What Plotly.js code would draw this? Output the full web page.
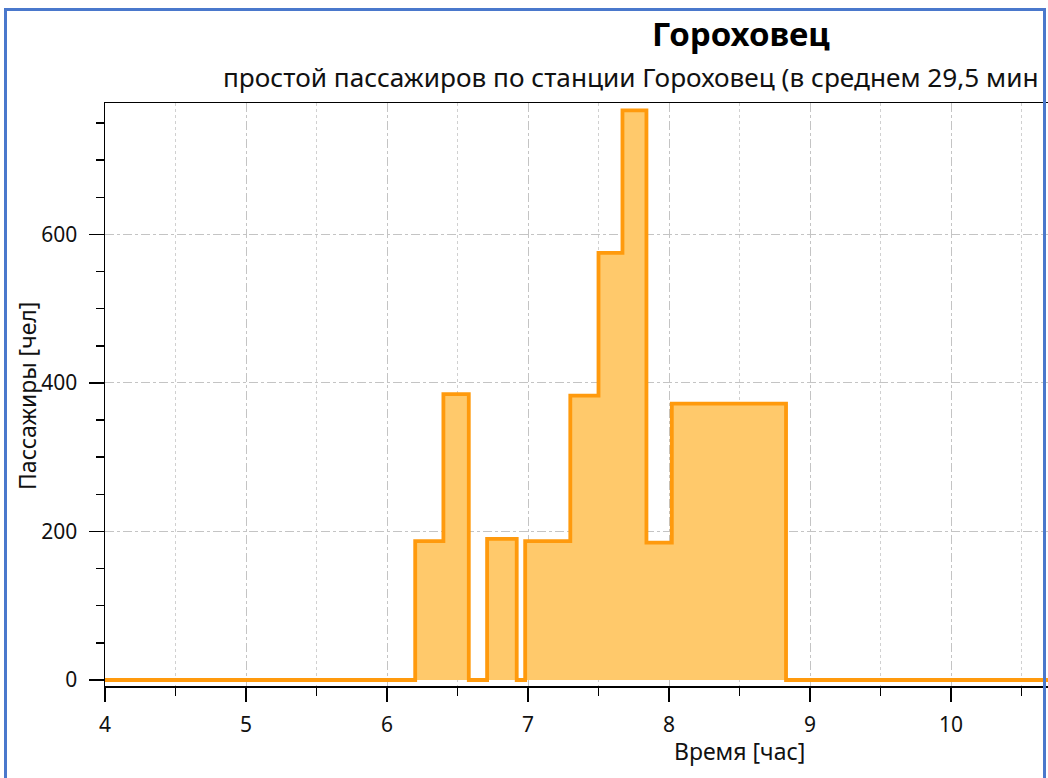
<!DOCTYPE html>
<html>
<head>
<meta charset="utf-8">
<script src="https://cdn.plot.ly/plotly-3.0.1.min.js"></script>
<style>
  html, body { margin:0; padding:0; background:#fff; overflow:hidden; }
  #chart { position:absolute; left:0; top:0; width:1048px; height:778px; }
  #frame { position:absolute; left:4px; top:8px; width:1036px; height:800px;
           border:3px solid #4A78CC; pointer-events:none; z-index:10; }
</style>
</head>
<body>
<div id="chart"></div>
<div id="frame"></div>
<script>
// Step start times (hours) and passenger counts holding from that time
const stepTimes  = [4, 6.2, 6.4, 6.58, 6.71, 6.92, 6.98, 7.3, 7.5, 7.67, 7.84, 8.02, 8.83, 11];
const passengers = [0, 187, 385, 0, 190, 0, 187, 383, 575, 767, 185, 372, 0, 0];

const titleText = 'Гороховец';
const subtitleText = 'простой пассажиров по станции Гороховец (в среднем 29,5 мин';
const xTitle = 'Время [час]';
const yTitle = 'Пассажиры [чел]';

const FONT = 'Noto Sans, Open Sans, DejaVu Sans, sans-serif';

const trace = {
  x: stepTimes,
  y: passengers,
  type: 'scatter',
  mode: 'lines',
  line: { shape: 'hv', color: '#FF9A0D', width: 3.8 },
  fill: 'tozeroy',
  fillcolor: '#FFC96B',
  hoverinfo: 'skip'
};

const layout = {
  width: 1048,
  height: 778,
  margin: { l: 105, r: 0, t: 103, b: 92 },
  paper_bgcolor: 'rgba(0,0,0,0)',
  plot_bgcolor: '#fff',
  showlegend: false,
  font: { family: FONT, color: '#000', size: 21 },
  xaxis: {
    range: [4, 4 + 943 / 141],
    tickvals: [4, 5, 6, 7, 8, 9, 10],
    ticks: 'outside', ticklen: 14, tickwidth: 1.5, tickcolor: '#000',
    ticklabelstandoff: 5,
    showline: true, linecolor: '#000', linewidth: 1.5, mirror: true,
    showgrid: true, gridcolor: '#c4c4c4', griddash: 'dashdot', gridwidth: 1,
    zeroline: false,
    tickfont: { family: FONT, size: 21, color: '#111' },
    minor: { dtick: 0.5, ticks: 'outside', ticklen: 8, tickcolor: '#000', tickwidth: 1.5,
             showgrid: true, gridcolor: '#d0d0d0', griddash: 'dot', gridwidth: 1 }
  },
  yaxis: {
    range: [-8.1, 776.9],
    tickvals: [0, 200, 400, 600],
    ticks: 'outside', ticklen: 15, tickwidth: 1.5, tickcolor: '#000',
    ticklabelstandoff: 7,
    showline: true, linecolor: '#000', linewidth: 1.5, mirror: false,
    showgrid: true, gridcolor: '#c4c4c4', griddash: 'dashdot', gridwidth: 1,
    zeroline: false,
    tickfont: { family: FONT, size: 21, color: '#111' },
    minor: { dtick: 50, ticks: 'outside', ticklen: 8, tickcolor: '#000', tickwidth: 1.5, showgrid: false }
  },
  annotations: [
    { text: '<b>' + titleText + '</b>', xref: 'paper', yref: 'paper', x: (741 - 105) / 943, y: 1,
      yshift: 70, xanchor: 'center', yanchor: 'middle', showarrow: false,
      font: { family: FONT, size: 33, color: '#000' } },
    { text: subtitleText, xref: 'paper', yref: 'paper', x: (221 - 105) / 943, y: 1,
      yshift: 26, xanchor: 'left', yanchor: 'middle', showarrow: false,
      font: { family: FONT, size: 26.2, color: '#111' } },
    { text: xTitle, xref: 'paper', yref: 'paper', x: (739 - 105) / 943, y: 0,
      yshift: -65, xanchor: 'center', yanchor: 'middle', showarrow: false,
      font: { family: FONT, size: 23, color: '#111' } },
    { text: yTitle, xref: 'paper', yref: 'paper', x: 0, y: (686 - 396) / 583,
      xshift: -78, xanchor: 'center', yanchor: 'middle', textangle: -90, showarrow: false,
      font: { family: FONT, size: 23, color: '#111' } }
  ]
};

Plotly.newPlot('chart', [trace], layout, { staticPlot: true, displayModeBar: false });
</script>
</body>
</html>
